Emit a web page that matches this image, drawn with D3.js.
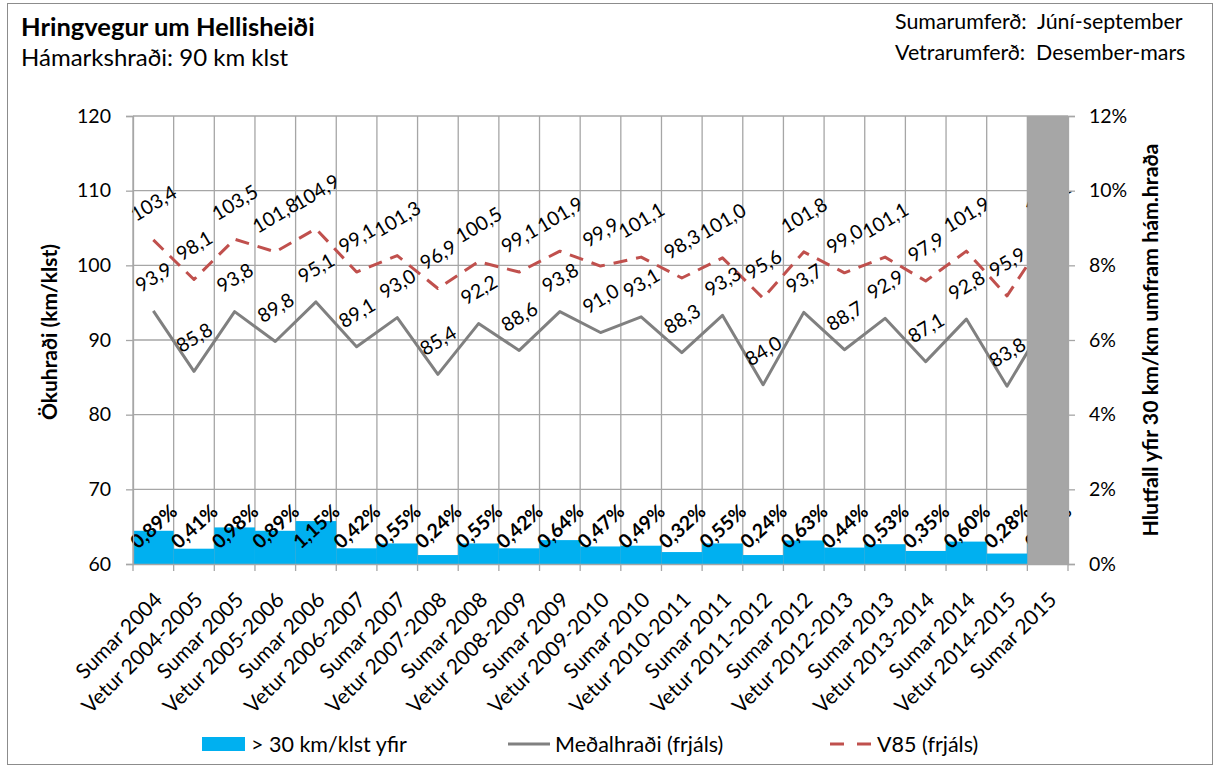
<!DOCTYPE html>
<html>
<head>
<meta charset="utf-8">
<script src="https://cdn.jsdelivr.net/npm/d3@7"></script>
<style>
  body { margin: 0; background: #fff; }
  text { font-family: Lato, "Noto Sans", sans-serif; fill: #000; }
</style>
</head>
<body>
<div id="chart"></div>
<script>
// Chart data
var categories = ["Sumar 2004", "Vetur 2004-2005", "Sumar 2005", "Vetur 2005-2006", "Sumar 2006",
  "Vetur 2006-2007", "Sumar 2007", "Vetur 2007-2008", "Sumar 2008", "Vetur 2008-2009", "Sumar 2009",
  "Vetur 2009-2010", "Sumar 2010", "Vetur 2010-2011", "Sumar 2011", "Vetur 2011-2012", "Sumar 2012",
  "Vetur 2012-2013", "Sumar 2013", "Vetur 2013-2014", "Sumar 2014", "Vetur 2014-2015", "Sumar 2015"];

// share of vehicles > 30 km/h over the limit (%)
var overPct = [0.89, 0.41, 0.98, 0.89, 1.15, 0.42, 0.55, 0.24, 0.55, 0.42, 0.64, 0.47,
  0.49, 0.32, 0.55, 0.24, 0.63, 0.44, 0.53, 0.35, 0.60, 0.28, 0.70];

// mean speed (free flow)
var meanSpeed = [93.9, 85.8, 93.8, 89.8, 95.1, 89.1, 93.0, 85.4, 92.2, 88.6, 93.8, 91.0,
  93.1, 88.3, 93.3, 84.0, 93.7, 88.7, 92.9, 87.1, 92.8, 83.8, 92.9];

// V85 (free flow)
var v85 = [103.4, 98.1, 103.5, 101.8, 104.9, 99.1, 101.3, 96.9, 100.5, 99.1, 101.9, 99.9,
  101.1, 98.3, 101.0, 95.6, 101.8, 99.0, 101.1, 97.9, 101.9, 95.9, 104.1];

// gray cover column (last season not finished)
var coverPct = [null, null, null, null, null, null, null, null, null, null, null, null,
  null, null, null, null, null, null, null, null, null, null, 12];

var leftTicks = [60, 70, 80, 90, 100, 110, 120];
var rightTicks = [0, 2, 4, 6, 8, 10, 12];

var svgWidth = 1215;
var svgHeight = 767;

var margin = { top: 116, right: 147, bottom: 203, left: 133 };
var chartWidth = svgWidth - margin.left - margin.right;
var chartHeight = svgHeight - margin.top - margin.bottom;

var gridColor = "#a6a6a6";
var fmt = d3.format(".1f");
var comma = function(s) { return s.replace(".", ","); };

var svg = d3.select("#chart")
  .append("svg")
  .attr("width", svgWidth)
  .attr("height", svgHeight);

// outer border
svg.append("rect")
  .attr("x", 7.5).attr("y", 3.5)
  .attr("width", svgWidth - 10).attr("height", svgHeight - 6)
  .attr("fill", "none").attr("stroke", "#8c8c8c").attr("stroke-width", 1);

var chartGroup = svg.append("g")
  .attr("transform", `translate(${margin.left}, ${margin.top})`);

var xScale = d3.scaleBand()
  .domain(categories)
  .range([0, chartWidth])
  .paddingInner(0)
  .paddingOuter(0);
var bw = xScale.bandwidth();

var yLeft = d3.scaleLinear().domain([60, 120]).range([chartHeight, 0]);
var yRight = d3.scaleLinear().domain([0, 12]).range([chartHeight, 0]);

// gridlines
chartGroup.append("g")
  .selectAll("line.h")
  .data(leftTicks)
  .enter()
  .append("line")
  .attr("x1", 0).attr("x2", chartWidth)
  .attr("y1", d => yLeft(d)).attr("y2", d => yLeft(d))
  .attr("stroke", gridColor).attr("stroke-width", 1.3);

var bounds = categories.map(c => xScale(c)).concat([chartWidth]);
chartGroup.append("g")
  .selectAll("line.v")
  .data(bounds)
  .enter()
  .append("line")
  .attr("x1", d => d).attr("x2", d => d)
  .attr("y1", 0).attr("y2", chartHeight + 7)
  .attr("stroke", gridColor).attr("stroke-width", 1.3);

// bars on secondary axis
chartGroup.append("g")
  .selectAll("rect")
  .data(overPct)
  .enter()
  .append("rect")
  .attr("x", (d, i) => xScale(categories[i]))
  .attr("width", bw)
  .attr("y", d => yRight(d))
  .attr("height", d => chartHeight - yRight(d))
  .attr("fill", "#00b0f0");

// lines
var lineMean = d3.line()
  .x((d, i) => xScale(categories[i]) + bw / 2)
  .y(d => yLeft(d));

chartGroup.append("path")
  .attr("d", lineMean(meanSpeed))
  .attr("fill", "none")
  .attr("stroke", "#808080")
  .attr("stroke-width", 3)
  .attr("stroke-linejoin", "round");

chartGroup.append("path")
  .attr("d", lineMean(v85))
  .attr("fill", "none")
  .attr("stroke", "#c0504d")
  .attr("stroke-width", 3)
  .attr("stroke-dasharray", "14,9")
  .attr("stroke-linejoin", "round");

// line labels, rotated -31 and set above the point
function lineLabels(values) {
  var g = chartGroup.append("g");
  values.forEach(function(v, i) {
    var t = g.append("text")
      .attr("font-size", "19.5px")
      .attr("text-anchor", "middle")
      .attr("dominant-baseline", "central")
      .text(comma(fmt(v)));
    var w = t.node().getComputedTextLength();
    var h = 15;
    var a = 31 * Math.PI / 180;
    var H = w * Math.sin(a) + h * Math.cos(a);
    var cx = xScale(categories[i]) + bw / 2;
    var cy = yLeft(v) - 18 - H / 2;
    t.attr("transform", `translate(${cx}, ${cy}) rotate(-31)`);
  });
}
lineLabels(meanSpeed);
lineLabels(v85);

// bar labels at inside base
chartGroup.append("g")
  .selectAll("text")
  .data(overPct)
  .enter()
  .append("text")
  .attr("font-size", "19.5px")
  .attr("font-weight", "bold")
  .attr("text-anchor", "middle")
  .attr("dominant-baseline", "central")
  .attr("transform", (d, i) => `translate(${xScale(categories[i]) + bw / 2}, ${yRight(0) - 38}) rotate(-42)`)
  .text(d => comma(d3.format(".2f")(d)) + "%");

// gray cover column
chartGroup.append("g")
  .selectAll("rect")
  .data(coverPct)
  .enter()
  .filter(d => d != null)
  .append("rect")
  .attr("x", (d, i) => xScale(categories[coverPct.indexOf(d)]))
  .attr("width", bw)
  .attr("y", d => yRight(d))
  .attr("height", d => chartHeight - yRight(d))
  .attr("fill", "#a6a6a6");

// axes
var leftAxis = chartGroup.append("g")
  .call(d3.axisLeft(yLeft).tickValues(leftTicks).tickSize(7).tickPadding(15));
var rightAxis = chartGroup.append("g")
  .attr("transform", `translate(${chartWidth}, 0)`)
  .call(d3.axisRight(yRight).tickValues(rightTicks).tickSize(7).tickPadding(14).tickFormat(d => d + "%"));
var bottomAxis = chartGroup.append("g")
  .attr("transform", `translate(0, ${chartHeight})`)
  .call(d3.axisBottom(xScale).tickSize(0));

[leftAxis, rightAxis].forEach(function(ax) {
  ax.select(".domain").attr("stroke", gridColor).attr("stroke-width", 1.3);
  ax.selectAll(".tick line").attr("stroke", gridColor).attr("stroke-width", 1.3);
  ax.selectAll(".tick text").attr("font-size", "19.5px").attr("font-family", "Lato").attr("fill", "#000");
});
bottomAxis.select(".domain").attr("stroke", gridColor).attr("stroke-width", 1.3);
bottomAxis.selectAll(".tick text")
  .attr("font-size", "21px")
  .attr("font-family", "Lato")
  .attr("fill", "#000")
  .attr("text-anchor", "end")
  .attr("y", 0).attr("dy", "0.35em")
  .attr("transform", "translate(5, 32) rotate(-45)");

// axis titles
chartGroup.append("text")
  .attr("transform", `translate(-76, ${chartHeight / 2 - 8}) rotate(-90)`)
  .attr("text-anchor", "middle")
  .attr("font-size", "21px")
  .attr("font-weight", "bold")
  .text("Ökuhraði (km/klst)");

chartGroup.append("text")
  .attr("transform", `translate(${chartWidth + 90}, ${chartHeight / 2}) rotate(-90)`)
  .attr("text-anchor", "middle")
  .attr("font-size", "21.3px")
  .attr("font-weight", "bold")
  .text("Hlutfall yfir 30 km/km umfram hám.hraða");

// titles
svg.append("text").attr("x", 21).attr("y", 36)
  .attr("font-size", "25.5px").attr("font-weight", "bold")
  .text("Hringvegur um Hellisheiði");
svg.append("text").attr("x", 21).attr("y", 66)
  .attr("font-size", "24px")
  .text("Hámarkshraði: 90 km klst");
svg.append("text").attr("x", 895).attr("y", 29)
  .attr("font-size", "21.4px").attr("xml:space", "preserve")
  .text("Sumarumferð:  Júní-september");
svg.append("text").attr("x", 895).attr("y", 60)
  .attr("font-size", "21.4px").attr("xml:space", "preserve")
  .text("Vetrarumferð:  Desember-mars");

// legend
var legend = svg.append("g").attr("transform", "translate(0, 744)");
legend.append("rect").attr("x", 202).attr("y", -7).attr("width", 43).attr("height", 14).attr("fill", "#00b0f0");
legend.append("text").attr("x", 251).attr("y", 0).attr("dy", "0.35em").attr("font-size", "21.5px").text("> 30 km/klst yfir");
legend.append("line").attr("x1", 508).attr("x2", 550).attr("stroke", "#808080").attr("stroke-width", 3);
legend.append("text").attr("x", 555).attr("y", 0).attr("dy", "0.35em").attr("font-size", "21.5px").text("Meðalhraði (frjáls)");
legend.append("line").attr("x1", 830).attr("x2", 871).attr("stroke", "#c0504d").attr("stroke-width", 3).attr("stroke-dasharray", "14,13");
legend.append("text").attr("x", 877).attr("y", 0).attr("dy", "0.35em").attr("font-size", "21.5px").text("V85 (frjáls)");
</script>
</body>
</html>
